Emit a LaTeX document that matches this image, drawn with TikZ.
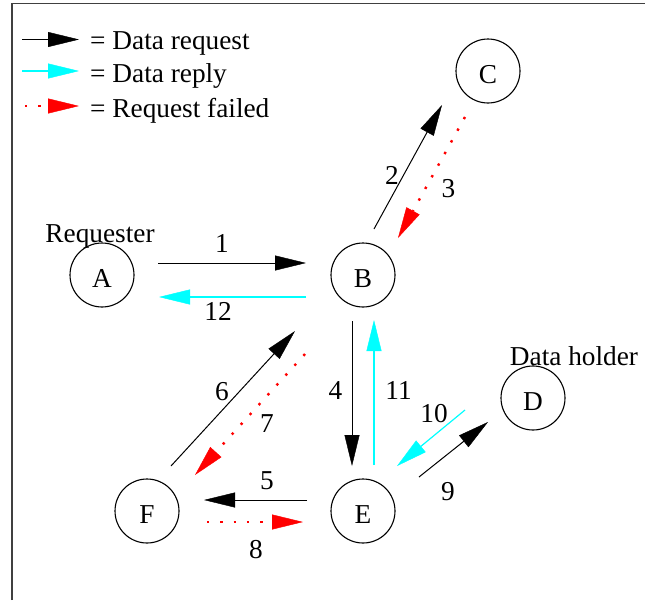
\documentclass[tikz,border=0pt]{standalone}
\usepackage{fontspec}
\setmainfont{Liberation Serif}
\usetikzlibrary{arrows.meta}
\definecolor{cy}{RGB}{0,255,255}
\definecolor{rd}{RGB}{255,0,0}
\begin{document}
\begin{tikzpicture}[x=1pt,y=-1pt,
  every node/.style={font=\fontsize{27.3}{32}\selectfont, inner sep=0pt},
  station/.style={circle,draw,line width=1.1pt,minimum size=64pt,text height=24pt,text depth=0pt},
  lbl/.style={anchor=base},
  req/.style={line width=1pt,-{Triangle[length=31pt,width=15pt,line width=0.4pt]}},
  rep/.style={color=cy,line width=1.2pt,-{Triangle[length=31pt,width=15pt,line width=0.4pt]}},
  fail/.style={color=rd,line width=2.4pt,line cap=butt,dash pattern=on 2.4pt off 10.9pt,-{Triangle[length=31pt,width=15pt,line width=0.4pt]}}]
\useasboundingbox (0,0) rectangle (645,600);
\draw[line width=1.2pt,black!75] (12,600) -- (12,3.5) -- (645,3.5);

% legend
\coordinate (l1s) at (22,39.5); \coordinate (l1e) at (79,39.5);
\coordinate (l2s) at (22,71);   \coordinate (l2e) at (79,71);
\coordinate (l3s) at (25,106);  \coordinate (l3e) at (79,106);
\draw[req] (l1s) -- (l1e);
\draw[rep] (l2s) -- (l2e);
\draw[fail] (l3s) -- (l3e);
\node[anchor=base west] (t1) at (90,49) {= Data request};
\node[anchor=base west] (t2) at (90,82) {= Data reply};
\node[anchor=base west] (t3) at (90,117) {= Request failed};

% stations
\node[station] (A) at (102,275) {A};
\node[station] (B) at (363,275) {B};
\node[station] (C) at (488,71) {C};
\node[station] (D) at (533,398) {D};
\node[station] (E) at (363,511) {E};
\node[station] (F) at (147,511) {F};
\node[lbl] (req) at (100,242) {Requester};
\node[lbl] (hold) at (574,365) {Data holder};

% connector end points
\coordinate (a1s) at (158,263);  \coordinate (a1e) at (306,263);
\coordinate (a12s) at (306,297); \coordinate (a12e) at (159,297);
\coordinate (a2s) at (374,229);  \coordinate (a2e) at (442,105);
\coordinate (a3s) at (465,117);  \coordinate (a3e) at (398,238);
\coordinate (a4s) at (352,321);  \coordinate (a4e) at (352,466);
\coordinate (a11s) at (374,465); \coordinate (a11e) at (374,320);
\coordinate (a10s) at (465,410); \coordinate (a10e) at (397,466);
\coordinate (a9s) at (419,477);  \coordinate (a9e) at (488,422);
\coordinate (a6s) at (171,466);  \coordinate (a6e) at (295,331);
\coordinate (a7s) at (305,354);  \coordinate (a7e) at (195,475);
\coordinate (a5s) at (307,500);  \coordinate (a5e) at (204,500);
\coordinate (a8s) at (207,522);  \coordinate (a8e) at (303,522);

\draw[req] (a1s) -- (a1e);
\draw[rep] (a12s) -- (a12e);
\draw[req] (a2s) -- (a2e);
\draw[fail] (a3s) -- (a3e);
\draw[req] (a4s) -- (a4e);
\draw[rep] (a11s) -- (a11e);
\draw[rep] (a10s) -- (a10e);
\draw[req] (a9s) -- (a9e);
\draw[req] (a6s) -- (a6e);
\draw[fail] (a7s) -- (a7e);
\draw[req] (a5s) -- (a5e);
\draw[fail] (a8s) -- (a8e);

% step numbers
\node[lbl] (n1) at (222,252) {1};
\node[lbl] (n12) at (218,320) {12};
\node[lbl] (n2) at (392,184) {2};
\node[lbl] (n3) at (448.5,197) {3};
\node[lbl] (n4) at (335.5,399) {4};
\node[lbl] (n11) at (398.5,399) {11};
\node[lbl] (n10) at (434,422) {10};
\node[lbl] (n9) at (448,500) {9};
\node[lbl] (n6) at (222,400) {6};
\node[lbl] (n7) at (267,432) {7};
\node[lbl] (n5) at (267,489) {5};
\node[lbl] (n8) at (256,558) {8};
\end{tikzpicture}
\end{document}
